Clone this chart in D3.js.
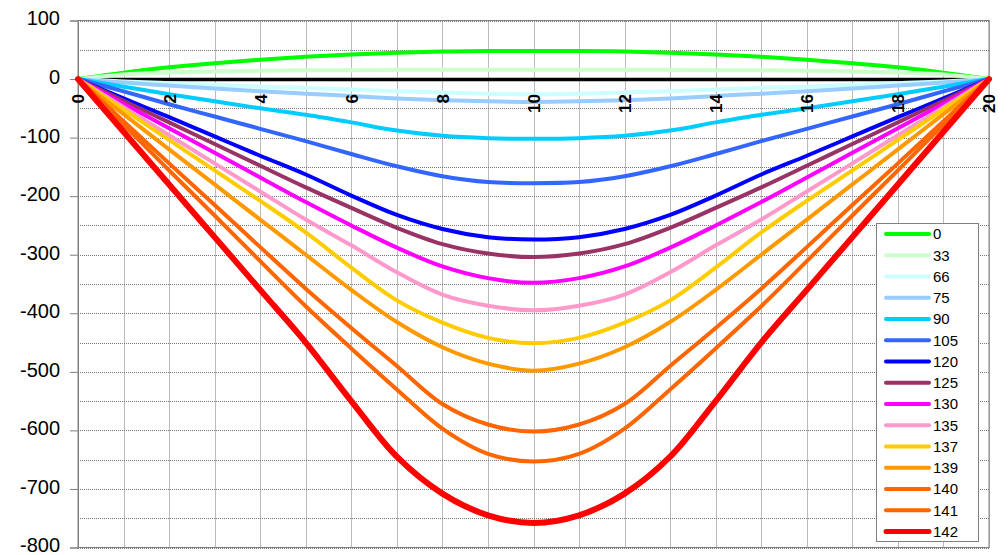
<!DOCTYPE html>
<html>
<head>
<meta charset="utf-8">
<script src="https://cdn.jsdelivr.net/npm/d3@7/dist/d3.min.js"></script>
<style>
  html, body { margin: 0; padding: 0; background: #fff; }
  svg { display: block; font-family: "Liberation Sans", Arial, sans-serif; }
</style>
</head>
<body>
<svg id="chart" width="1008" height="555"></svg>
<script>
// Positions along the member (x) and deflection for each load case
const xs = [0,1,2,3,4,5,6,7,8,9,10,11,12,13,14,15,16,17,18,19,20];

const loads = ["0","33","66","75","90","105","120","125","130","135","137","139","140","141","142"];

const s0   = [0, 11, 20, 27, 33, 38, 42, 45, 47, 48, 48, 48, 47, 45, 42, 38, 33, 27, 20, 11, 0];
const s33  = [0, 8, 11, 13, 14, 15, 15, 16, 16, 16, 16, 16, 16, 16, 15, 15, 14, 13, 11, 8, 0];
const s66  = [0, -4, -7, -10, -13, -15, -18, -21, -23, -25, -26, -25, -23, -21, -18, -15, -13, -10, -7, -4, 0];
const s75  = [0, -6, -11, -16, -21, -25, -29, -33, -36, -38, -39, -38, -36, -33, -29, -25, -21, -16, -11, -6, 0];
const s90  = [0, -13, -26, -38, -50, -61, -74, -88, -97, -101, -102, -101, -97, -88, -74, -61, -50, -38, -26, -13, 0];
const s105 = [0, -21, -43, -64, -85, -106, -128, -149, -166, -176, -178, -176, -166, -149, -128, -106, -85, -64, -43, -21, 0];
const s120 = [0, -33, -65, -98, -131, -163, -199, -232, -256, -270, -274, -270, -256, -232, -199, -163, -131, -98, -65, -33, 0];
const s125 = [0, -37, -74, -111, -148, -185, -220, -254, -282, -298, -304, -298, -282, -254, -220, -185, -148, -111, -74, -37, 0];
const s130 = [0, -42, -84, -126, -168, -210, -250, -288, -320, -340, -348, -340, -320, -288, -250, -210, -168, -126, -84, -42, 0];
const s135 = [0, -48, -96, -144, -192, -240, -284, -330, -368, -387, -395, -387, -368, -330, -284, -240, -192, -144, -96, -48, 0];
const s137 = [0, -52, -104, -156, -208, -262, -322, -378, -416, -442, -451, -442, -416, -378, -322, -262, -208, -156, -104, -52, 0];
const s139 = [0, -60, -120, -180, -240, -300, -360, -415, -458, -486, -498, -486, -458, -415, -360, -300, -240, -180, -120, -60, 0];
const s140 = [0, -72, -144, -215, -287, -358, -425, -490, -555, -590, -602, -590, -555, -490, -425, -358, -287, -215, -144, -72, 0];
const s141 = [0, -78, -156, -233, -311, -388, -460, -530, -597, -640, -653, -640, -597, -530, -460, -388, -311, -233, -156, -78, 0];
const s142 = [0, -90, -180, -270, -360, -450, -550, -645, -708, -745, -758, -745, -708, -645, -550, -450, -360, -270, -180, -90, 0];

const seriesValues = [s0, s33, s66, s75, s90, s105, s120, s125, s130, s135, s137, s139, s140, s141, s142];

const colors = ["#00ff00","#ccffcc","#ccffff","#99ccff","#00ccff","#3366ff","#0000ff","#993366",
                "#ff00ff","#ff99cc","#ffcc00","#ff9900","#ff6600","#ff6600","#ff0000"];
const widths = [4,4,4,4,4,4,4,4,4,4,4,4,4,4,6];

const xTickValues = [0,2,4,6,8,10,12,14,16,18,20];
const yTickValues = [100,0,-100,-200,-300,-400,-500,-600,-700,-800];
const yGridValues = d3.range(100, -801, -50);
const xGridValues = d3.range(0, 21, 1);

const svg = d3.select("#chart");
const plot = { left: 78, right: 989, top: 20.5, bottom: 547.5 };

const x = d3.scaleLinear().domain([0, 20]).range([plot.left, plot.right]);
const y = d3.scaleLinear().domain([100, -800]).range([plot.top, plot.bottom]);

// dotted grid
const grid = svg.append("g");
grid.selectAll("line.h").data(yGridValues).join("line")
  .attr("x1", plot.left).attr("x2", plot.right)
  .attr("y1", d => Math.round(y(d)) + 0.5).attr("y2", d => Math.round(y(d)) + 0.5)
  .attr("stroke", "#777").attr("stroke-width", 1).attr("stroke-dasharray", "1,1");
grid.selectAll("line.v").data(xGridValues).join("line")
  .attr("x1", d => Math.round(x(d)) + 0.5).attr("x2", d => Math.round(x(d)) + 0.5)
  .attr("y1", plot.top).attr("y2", plot.bottom)
  .attr("stroke", "#777").attr("stroke-width", 1).attr("stroke-dasharray", "1,1");

// plot frame
svg.append("rect")
  .attr("x", plot.left).attr("y", plot.top)
  .attr("width", plot.right - plot.left).attr("height", plot.bottom - plot.top)
  .attr("fill", "none").attr("stroke", "#808080").attr("stroke-width", 1);

// y axis
const yAxis = d3.axisLeft(y).tickValues(yTickValues).tickSize(8).tickPadding(10).tickFormat(d3.format("d"));
const gy = svg.append("g").attr("transform", `translate(${plot.left},0)`).call(yAxis);
gy.select(".domain").attr("stroke", "#808080");
gy.selectAll(".tick line").attr("stroke", "#808080");
gy.selectAll(".tick text").attr("font-size", 20).attr("fill", "#000")
  .attr("font-family", "'Liberation Sans', Arial, sans-serif")
  .attr("dy", "0.22em")
  .text(d => d < 0 ? "-" + Math.abs(d) : d);

// zero line (horizontal axis), beneath the curves
const xAxis = d3.axisBottom(x).tickValues(xTickValues).tickSize(0).tickFormat(d3.format("d"));
const gx = svg.append("g").attr("transform", `translate(0,${y(0)})`).call(xAxis);
gx.select(".domain").attr("stroke", "#000").attr("stroke-width", 3.5);
gx.selectAll(".tick").remove();

// deflection curves
const line = d3.line()
  .x((d, i) => x(xs[i]))
  .y(d => y(d))
  .curve(d3.curveCatmullRom.alpha(0.5));

svg.append("g").selectAll("path").data(seriesValues).join("path")
  .attr("d", d => line(d))
  .attr("fill", "none")
  .attr("stroke", (d, i) => colors[i])
  .attr("stroke-width", (d, i) => widths[i])
  .attr("stroke-linejoin", "round")
  .attr("stroke-linecap", "round");

// axis labels drawn above the curves
const gxl = svg.append("g").attr("transform", `translate(0,${y(0)})`)
  .call(d3.axisBottom(x).tickValues(xTickValues).tickSize(0).tickFormat(d3.format("d")));
gxl.select(".domain").remove();
gxl.selectAll(".tick text")
  .attr("font-size", 17).attr("font-weight", "bold").attr("fill", "#000")
  .attr("font-family", "'Liberation Sans', Arial, sans-serif")
  .attr("text-anchor", "end")
  .attr("transform", "rotate(-90)")
  .attr("x", -15).attr("y", 0).attr("dy", "0.35em");

// legend
const lg = { left: 876, top: 223, width: 102, height: 318, first: 234, step: 21.25 };
const legend = svg.append("g");
legend.append("rect")
  .attr("x", lg.left + 0.5).attr("y", lg.top + 0.5)
  .attr("width", lg.width).attr("height", lg.height)
  .attr("fill", "#fff").attr("stroke", "#808080");
const items = legend.selectAll("g.item").data(loads).join("g")
  .attr("transform", (d, i) => `translate(0,${lg.first + i * lg.step})`);
items.append("line")
  .attr("x1", 886).attr("x2", 929)
  .attr("stroke", (d, i) => colors[i])
  .attr("stroke-width", (d, i) => widths[i] === 6 ? 5 : 4)
  .attr("stroke-linecap", "round");
items.append("text")
  .attr("x", 933).attr("dy", "0.36em")
  .attr("font-size", 15).attr("fill", "#000")
  .text(d => d);
</script>
</body>
</html>
